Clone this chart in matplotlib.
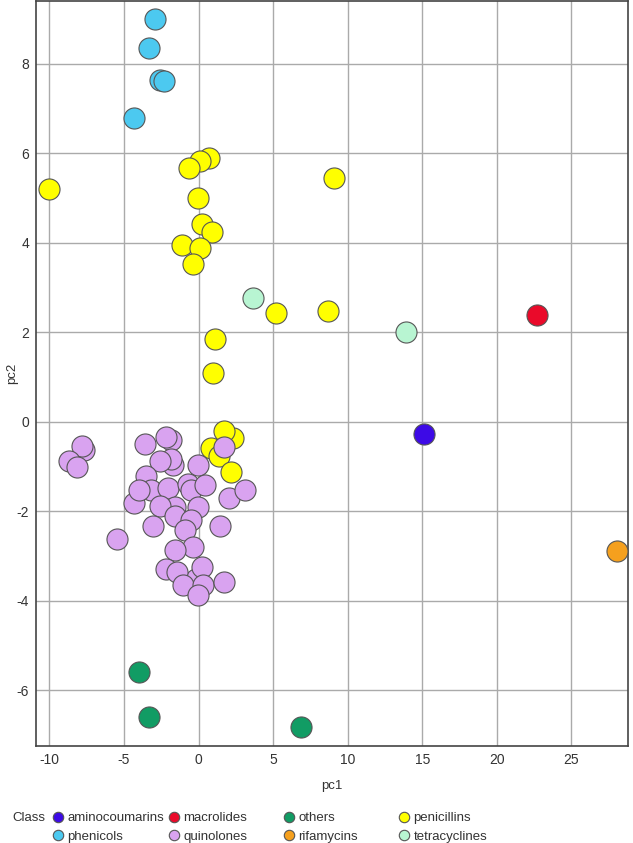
import matplotlib.pyplot as plt
from matplotlib.lines import Line2D

plt.rcParams['font.family'] = ['Liberation Sans', 'DejaVu Sans']
plt.rcParams['axes.unicode_minus'] = False

classes = ['aminocoumarins', 'macrolides', 'others', 'penicillins',
           'phenicols', 'quinolones', 'rifamycins', 'tetracyclines']
colors = {'aminocoumarins': '#3d0ae6', 'macrolides': '#ea0a2a', 'others': '#119c64',
          'penicillins': '#ffff00', 'phenicols': '#4cc9f0', 'quinolones': '#d9a3f0',
          'rifamycins': '#f5a01e', 'tetracyclines': '#b8f5d2'}

# points per class (pc1, pc2)
aminocoumarins_x = [15.1]
aminocoumarins_y = [-0.27]
macrolides_x = [22.7]
macrolides_y = [2.37]
others_x = [-4.0, -3.3, 6.85]
others_y = [-5.6, -6.6, -6.83]
rifamycins_x = [28.05]
rifamycins_y = [-2.9]
tetracyclines_x = [3.62, 13.9]
tetracyclines_y = [2.77, 1.99]
phenicols_x = [-2.9, -3.3, -2.6, -2.35, -4.3]
phenicols_y = [8.99, 8.35, 7.63, 7.61, 6.79]
penicillins_x = [-10.05, 0.67, 0.07, -0.67, -0.07, 0.2, 0.87, -1.14, 0.07, -0.4,
                 9.06, 5.17, 8.66, 1.07, 0.94, 2.28, 1.68, 0.8, 1.34, 2.15]
penicillins_y = [5.2, 5.89, 5.83, 5.67, 5.0, 4.42, 4.24, 3.95, 3.88, 3.53,
                 5.45, 2.43, 2.46, 1.85, 1.09, -0.36, -0.22, -0.6, -0.76, -1.13]
quinolones_x = [-7.7, -7.8, -8.7, -8.17, -3.62, -1.83, -2.17, -1.72, -1.83, -2.62,
                -0.04, -3.56, -3.18, -4.34, -4.03, -2.06, -0.72, -0.49, 0.4, 2.04,
                3.13, -1.61, -2.62, -0.04, -1.61, -0.49, -3.06, 1.41, -0.94, -5.46,
                -0.38, -1.56, -2.21, -0.16, -1.43, 0.25, -1.05, 0.29, -0.04, 1.7, 1.68]
quinolones_y = [-0.63, -0.55, -0.89, -1.02, -0.5, -0.41, -0.35, -0.96, -0.83, -0.87,
                -0.98, -1.21, -1.54, -1.81, -1.52, -1.48, -1.39, -1.54, -1.41, -1.7,
                -1.52, -1.91, -1.88, -1.91, -2.1, -2.19, -2.34, -2.34, -2.43, -2.62,
                -2.81, -2.88, -3.29, -3.51, -3.36, -3.25, -3.66, -3.66, -3.87, -3.59, -0.56]

data = {
    'aminocoumarins': (aminocoumarins_x, aminocoumarins_y),
    'macrolides': (macrolides_x, macrolides_y),
    'others': (others_x, others_y),
    'rifamycins': (rifamycins_x, rifamycins_y),
    'tetracyclines': (tetracyclines_x, tetracyclines_y),
    'phenicols': (phenicols_x, phenicols_y),
    'penicillins': (penicillins_x, penicillins_y),
    'quinolones': (quinolones_x, quinolones_y),
}

fig = plt.figure(figsize=(6.33, 8.43), dpi=100)
ax = fig.add_axes([0.057, 0.115, 0.935, 0.884])

for name, (xs, ys) in data.items():
    ax.scatter(xs, ys, s=230, c=colors[name], edgecolors='#555555',
               linewidths=0.8, zorder=3)

ax.set_xlim(-10.9, 28.8)
ax.set_ylim(-7.25, 9.4)
ax.set_xticks([-10, -5, 0, 5, 10, 15, 20, 25])
ax.set_yticks([-6, -4, -2, 0, 2, 4, 6, 8])
ax.grid(True, color='#aaaaaa', linewidth=1)
ax.set_axisbelow(True)
ax.tick_params(length=0, labelsize=10, labelcolor='#333333')
ax.tick_params(axis='x', pad=5)
ax.tick_params(axis='y', pad=5)
for sp in ax.spines.values():
    sp.set_color('#444444')
    sp.set_linewidth(1.2)
ax.set_xlabel('pc1', fontsize=9.5, color='#333333')
ax.set_ylabel('pc2', fontsize=9.5, color='#333333')
ax.xaxis.set_label_coords(0.5, -0.046)
ax.yaxis.set_label_coords(-0.031, 0.5)

# legend: "Class" then 4 columns of 2 rows
fig.text(12 / 633, 1 - 818 / 843, 'Class', fontsize=9.5, color='#333333', va='center')
col_x = [53, 169, 284, 399]
for i, cx in enumerate(col_x):
    names = [classes[i], classes[i + 4]]
    handles = [Line2D([], [], marker='o', linestyle='', markersize=7.5,
                      markerfacecolor=colors[n], markeredgecolor='#555555',
                      markeredgewidth=0.8) for n in names]
    leg = fig.legend(handles, names, loc='upper left',
                     bbox_to_anchor=(cx / 633, 1 - 812 / 843), frameon=False,
                     fontsize=9.5, handlelength=0.75, handletextpad=0.35,
                     labelspacing=0.5, borderaxespad=0, borderpad=0)
    for t in leg.get_texts():
        t.set_color('#333333')

fig.savefig('out.png', dpi=100)
